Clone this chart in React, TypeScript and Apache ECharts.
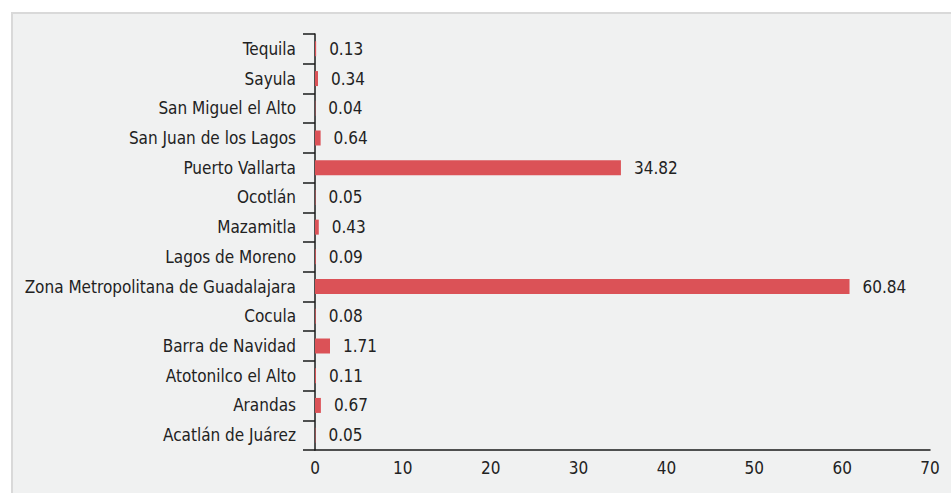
import React, { useEffect, useRef } from "react";
import * as echarts from "echarts";

const categories = [
  "Acatlán de Juárez",
  "Arandas",
  "Atotonilco el Alto",
  "Barra de Navidad",
  "Cocula",
  "Zona Metropolitana de Guadalajara",
  "Lagos de Moreno",
  "Mazamitla",
  "Ocotlán",
  "Puerto Vallarta",
  "San Juan de los Lagos",
  "San Miguel el Alto",
  "Sayula",
  "Tequila",
];

const values = [0.05, 0.67, 0.11, 1.71, 0.08, 60.84, 0.09, 0.43, 0.05, 34.82, 0.64, 0.04, 0.34, 0.13];

const xTicks = { min: 0, max: 70, interval: 10 };

const FONT = "'Liberation Sans Narrow', 'DejaVu Sans Condensed', 'Roboto Condensed', sans-serif";

export default function App() {
  const ref = useRef<HTMLDivElement>(null);
  useEffect(() => {
    if (!ref.current) return;
    const chart = echarts.init(ref.current, null, { renderer: "svg" });
    chart.setOption({
      animation: false,
      backgroundColor: "#ffffff",
      textStyle: { fontFamily: FONT },
      graphic: [
        {
          type: "rect",
          left: 11,
          top: 12,
          shape: { x: 0, y: 0, width: 960, height: 500 },
          style: { fill: "#f0f1f1", stroke: "#d9d9d9", lineWidth: 2 },
          z: -10,
          silent: true,
        },
      ],
      grid: { left: 315, top: 34, right: 21, bottom: 43, containLabel: false },
      xAxis: {
        type: "value",
        min: xTicks.min,
        max: xTicks.max,
        interval: xTicks.interval,
        axisLine: { show: true, lineStyle: { color: "#1a1a1a", width: 1.5 } },
        axisTick: { show: false },
        splitLine: { show: false },
        axisLabel: { color: "#222", fontSize: 17, fontFamily: FONT, margin: 9 },
      },
      yAxis: {
        type: "category",
        data: categories,
        axisLine: { show: true, lineStyle: { color: "#1a1a1a", width: 1.5 } },
        axisTick: { show: true, length: 12, lineStyle: { color: "#1a1a1a", width: 1.5 } },
        axisLabel: { color: "#222", fontSize: 17, fontFamily: FONT, margin: 19 },
        splitLine: { show: false },
      },
      series: [
        {
          type: "bar",
          data: values,
          barWidth: 15,
          itemStyle: { color: "#db5257" },
          label: {
            show: true,
            position: "right",
            distance: 13,
            color: "#222",
            fontSize: 17,
            fontFamily: FONT,
            formatter: (p: any) => Number(p.value).toFixed(2),
          },
        },
      ],
    });
    return () => chart.dispose();
  }, []);
  return (
    <div
      ref={ref}
      style={{ position: "fixed", left: 0, top: 0, width: 951, height: 493 }}
    />
  );
}
